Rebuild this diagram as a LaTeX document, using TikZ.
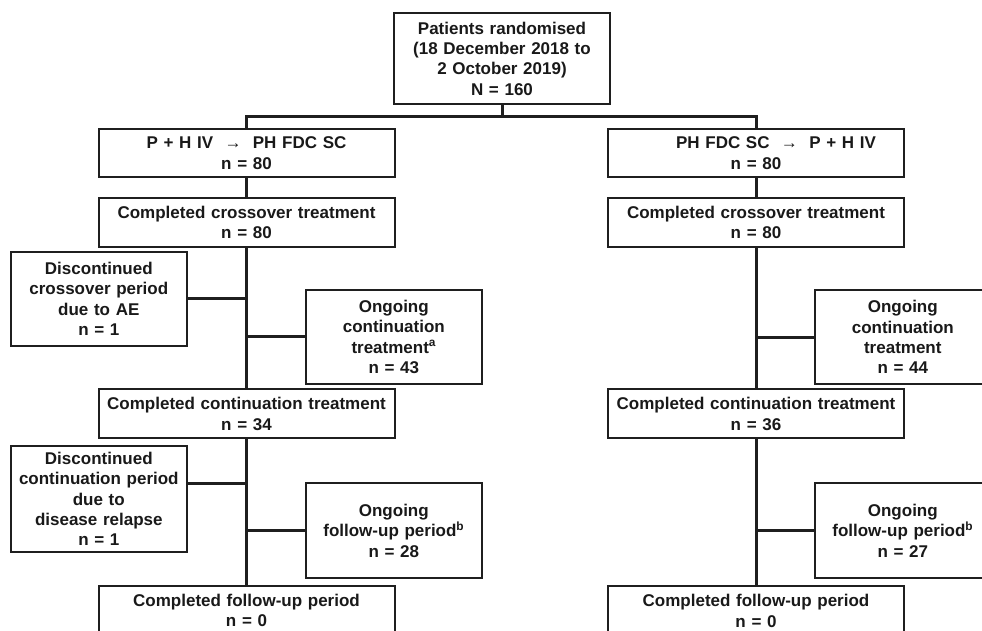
\documentclass[tikz,border=0pt]{standalone}
\usepackage{fontspec}
\setmainfont{Liberation Sans}
\begin{document}
\begin{tikzpicture}[x=1pt,y=-1pt,
  box/.style={draw=black!88, line width=2pt, align=center, inner sep=0pt,
    text=black!90, font=\bfseries\fontsize{17}{20.3}\selectfont},
  wide/.style={box, minimum width=296pt, text width=290pt, minimum height=49pt},
  side/.style={box, minimum width=176pt, text width=170pt},
  link/.style={draw=black!88, line width=3pt}]
\useasboundingbox (0,0) rectangle (982,630);
\clip (0,0) rectangle (982,630);

% top of the chart
\draw (502,58.7) node[box, minimum width=216pt, minimum height=91pt, text width=210pt] (rand)
  {Patients randomised\\(18 December 2018 to\\2 October 2019)\\N = 160};
\coordinate (split) at (502,116);

% left arm
\draw (246.5,153) node[wide, minimum height=48pt] (armL) {P + H IV~~{\mdseries →}~~PH FDC SC\\n = 80};
\draw (246.5,222.3) node[wide] (xoverL) {Completed crossover treatment\\n = 80};
\draw (98.8,298.8) node[side, minimum height=94pt] (discL1) {Discontinued\\crossover period\\due to AE\\n = 1};
\draw (393.8,336.8) node[side, minimum height=94pt] (ongL1) {Ongoing\\continuation\\treatment\textsuperscript{a}\\n = 43};
\draw (246.5,413.8) node[wide] (contL) {Completed continuation treatment\\n = 34};
\draw (98.8,499) node[side, minimum height=106.6pt] (discL2) {Discontinued\\continuation period\\due to\\disease relapse\\n = 1};
\draw (393.8,530.8) node[side, minimum height=95pt] (ongL2) {Ongoing\\follow-up period\textsuperscript{b}\\n = 28};
\draw (246.5,610.5) node[wide] (fuL) {Completed follow-up period\\n = 0};

% right arm
\draw (756,153) node[wide, minimum height=48pt] (armR) {\hspace*{40pt}PH FDC SC~~{\mdseries →}~~P + H IV\\n = 80};
\draw (756,222.3) node[wide] (xoverR) {Completed crossover treatment\\n = 80};
\draw (902.8,337.2) node[side, minimum height=94pt] (ongR1) {Ongoing\\continuation\\treatment\\n = 44};
\draw (756,413.8) node[wide] (contR) {Completed continuation treatment\\n = 36};
\draw (902.8,530.8) node[side, minimum height=95pt] (ongR2) {Ongoing\\follow-up period\textsuperscript{b}\\n = 27};
\draw (756,610.8) node[wide] (fuR) {Completed follow-up period\\n = 0};

% connectors
\draw[link] (rand.south) -- (split);
\draw[link] (armL.north) |- (split) -| (armR.north);

\draw[link] (armL) -- (xoverL);
\draw[link] (xoverL) -- (contL);
\draw[link] (contL) -- (fuL);
\draw[link] (discL1.east) -- (discL1.east -| xoverL.south);
\draw[link] (ongL1.west) -- (ongL1.west -| xoverL.south);
\draw[link] ([yshift=15.7pt]discL2.east) -- ([yshift=15.7pt]discL2.east -| contL.south);
\draw[link] (ongL2.west) -- (ongL2.west -| contL.south);

\draw[link] (armR) -- (xoverR);
\draw[link] (xoverR) -- (contR);
\draw[link] (contR) -- (fuR);
\draw[link] (ongR1.west) -- (ongR1.west -| xoverR.south);
\draw[link] (ongR2.west) -- (ongR2.west -| contR.south);
\end{tikzpicture}
\end{document}
